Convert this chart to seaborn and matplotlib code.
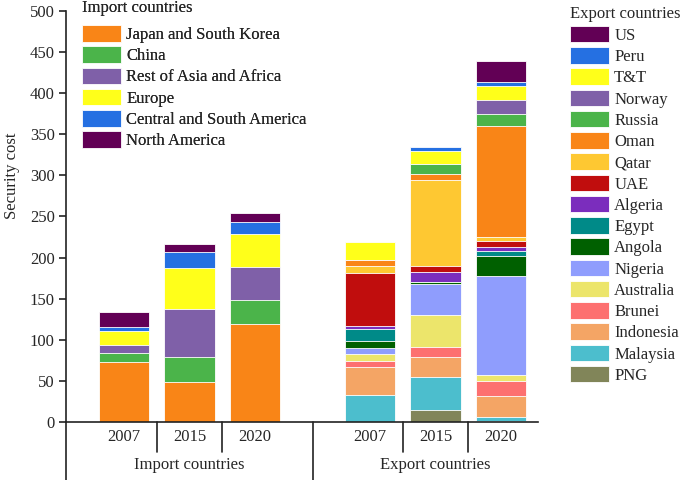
import matplotlib
matplotlib.use('Agg')
import pandas as pd
import matplotlib.pyplot as plt
from matplotlib.patches import Patch
import seaborn as sns

# %% data

years = ['2007', '2015', '2020']

# bottom -> top of each stack
import_names = ['Japan and South Korea', 'China', 'Rest of Asia and Africa',
                'Europe', 'Central and South America', 'North America']
imp_2007 = [73, 11, 9.5, 17, 5.5, 18]
imp_2015 = [49, 29.6, 58.4, 50, 20, 9.6]
imp_2020 = [119, 29.6, 40, 40, 15, 11]

export_names = ['PNG', 'Malaysia', 'Indonesia', 'Brunei', 'Australia', 'Nigeria',
                'Angola', 'Egypt', 'Algeria', 'UAE', 'Qatar', 'Oman', 'Russia',
                'Norway', 'T&T', 'Peru', 'US']
exp_2007 = [0, 32.5, 34, 8, 8, 8, 8, 14.5, 4, 64.5, 8, 8, 0, 0, 21, 0, 0]
exp_2015 = [14.6, 40, 24.8, 11.6, 38.6, 38, 2.8, 0, 11.6, 7.4, 105, 7.3, 12, 0, 15.8, 5.4, 0]
exp_2020 = [1, 5, 25.5, 18, 7.5, 120.5, 24.2, 6.6, 4, 8.1, 4.8, 135.5, 14, 17, 16.6, 4.9, 26.4]

import_colors = ['#f98517', '#4bb44a', '#7f60a8', '#ffff1a', '#2570e2', '#620055']
export_colors = ['#818559', '#4cbecd', '#f4a565', '#fd7070', '#ece56b', '#8f9dfd',
                 '#006000', '#008a88', '#7b2dbd', '#c00d0d', '#fec832', '#f98517',
                 '#4bb44a', '#7f60a8', '#ffff1a', '#2570e2', '#620055']

imp_pos = [0, 1, 2]
exp_pos = [3.76, 4.76, 5.76]


# %% long tables with cumulative tops

def stack_table(names, cols, pos):
    rows = []
    for p, vals in zip(pos, cols):
        top = 0
        for n, v in zip(names, vals):
            top += v
            rows.append({'pos': p, 'series': n, 'top': top})
    return pd.DataFrame(rows)


df_imp = stack_table(import_names, [imp_2007, imp_2015, imp_2020], imp_pos)
df_exp = stack_table(export_names, [exp_2007, exp_2015, exp_2020], exp_pos)

# %% plot

sns.set_style('ticks')
plt.rcParams['font.family'] = ['Liberation Serif', 'DejaVu Serif']
plt.rcParams['font.size'] = 12

fig = plt.figure(figsize=(6.85, 4.8), dpi=100)
ax = fig.add_axes([0.097, 0.121, 0.688, 0.856])

for df, names, colors in [(df_imp, import_names, import_colors),
                          (df_exp, export_names, export_colors)]:
    # draw tallest first, lower segments painted over it
    for n, c in zip(names[::-1], colors[::-1]):
        sns.barplot(data=df[df['series'] == n], x='pos', y='top',
                    native_scale=True, width=0.77, color=c, saturation=1,
                    edgecolor='white', linewidth=0.6, errorbar=None, ax=ax)

ax.set_xlim(-0.88, 6.32)
ax.set_ylim(0, 500)
ax.set_yticks(range(0, 501, 50))
ax.set_xticks([])
ax.set_xlabel('')
ax.set_ylabel('Security cost', fontsize=12)
ax.yaxis.set_label_coords(-0.098, 0.6)
ax.tick_params(axis='y', labelsize=12, length=5, width=1.2, color='#222222')
for s in ['top', 'right']:
    ax.spines[s].set_visible(False)
for s in ['left', 'bottom']:
    ax.spines[s].set_linewidth(1.2)
    ax.spines[s].set_color('#222222')

trans = ax.get_xaxis_transform()
for x in [0.5, 1.5, 4.26, 5.26]:
    ax.plot([x, x], [0, -0.073], transform=trans, color='#222222', lw=1.2, clip_on=False)
for x in [-0.88, 2.88]:
    ax.plot([x, x], [0, -0.16], transform=trans, color='#222222', lw=1.2, clip_on=False)

for p, y in zip(imp_pos + exp_pos, years + years):
    ax.text(p, -0.036, y, transform=trans, ha='center', va='center', fontsize=12)
ax.text(1, -0.106, 'Import countries', transform=trans, ha='center', va='center', fontsize=12)
ax.text(4.76, -0.106, 'Export countries', transform=trans, ha='center', va='center', fontsize=12)

leg_kw = dict(loc='upper left', bbox_transform=fig.transFigure, frameon=False,
              fontsize=12, title_fontsize=12, handlelength=2.35, handleheight=1.15,
              labelspacing=0.2, handletextpad=0.3, borderpad=0, borderaxespad=0,
              alignment='left')

h_imp = [Patch(facecolor=c, edgecolor='white', linewidth=0.6) for c in import_colors]
leg1 = ax.legend(h_imp, import_names, title='Import countries',
                 bbox_to_anchor=(82 / 685, 1.0), **leg_kw)
leg1._legend_box.sep = 6.5  # gap between title and entries
ax.add_artist(leg1)

h_exp = [Patch(facecolor=c, edgecolor='white', linewidth=0.6) for c in export_colors[::-1]]
leg2 = fig.legend(h_exp, export_names[::-1], title='Export countries',
                  bbox_to_anchor=(570 / 685, 0.988), **leg_kw)
leg2._legend_box.sep = 3

fig.savefig('out.png', dpi=100)
